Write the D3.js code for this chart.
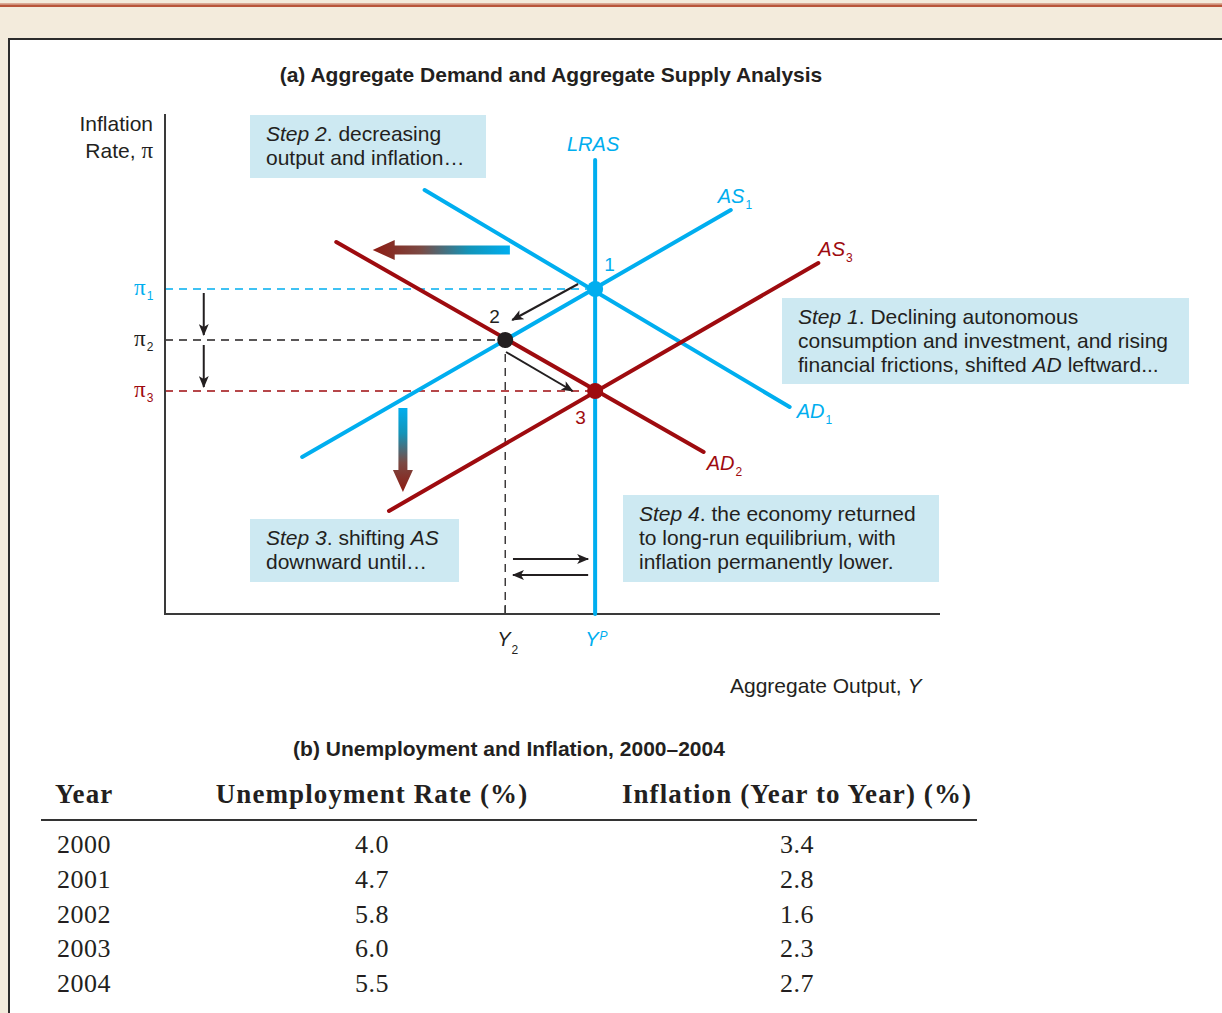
<!DOCTYPE html>
<html><head><meta charset="utf-8">
<script src="https://cdn.jsdelivr.net/npm/d3@7"></script>
<style>body{margin:0;background:#f3ebdc;overflow:hidden}</style>
</head><body><svg id="c" width="1222" height="1013"></svg>
<script>
// ---- data (schematic units: output 0-100, inflation 0-100) ----
const curveNames = ["LRAS", "AD1", "AS1", "AD2", "AS3"];
const curveColors = ["blue", "blue", "blue", "red", "red"];
const curveStart = [[55.5, 0], [33.5, 84.8], [17.7, 31.4], [22.1, 74.4], [28.9, 20.6]];
const curveEnd = [[55.5, 90.8], [80.6, 41.4], [73.0, 80.8], [69.5, 32.4], [84.3, 70.2]];
const eqLabels = ["1", "2", "3"];
const eqOutput = [55.5, 43.9, 55.5];
const eqInflation = [65, 54.8, 44.6];
const eqColors = ["blue", "black", "red"];
const piLabels = ["1", "2", "3"];
const years = ["2000", "2001", "2002", "2003", "2004"];
const unemployment = ["4.0", "4.7", "5.8", "6.0", "5.5"];
const inflationYoY = ["3.4", "2.8", "1.6", "2.3", "2.7"];
const tableHeaders = ["Year", "Unemployment Rate (%)", "Inflation (Year to Year) (%)"];

const COL = {blue: "#00aeef", red: "#9e0b0f", black: "#231f20"};
const SANS = "'Liberation Sans', Arial, Helvetica, sans-serif";
const SERIF = "'Liberation Serif', 'Times New Roman', serif";

const svg = d3.select("#c");
const x = d3.scaleLinear().domain([0, 100]).range([165, 940]);
const y = d3.scaleLinear().domain([0, 100]).range([614, 114]);

// page frame
svg.append("rect").attr("x", 0).attr("y", 0).attr("width", 1222).attr("height", 1013).attr("fill", "#f3ebdc");
svg.append("rect").attr("x", 0).attr("y", 3).attr("width", 1222).attr("height", 1.5).attr("fill", "#dba994");
svg.append("rect").attr("x", 0).attr("y", 4.5).attr("width", 1222).attr("height", 2.5).attr("fill", "#b8553a");
svg.append("rect").attr("x", 9).attr("y", 39).attr("width", 1240).attr("height", 1000)
  .attr("fill", "#fff").attr("stroke", "#2b2b2b").attr("stroke-width", 2);

const defs = svg.append("defs");
defs.append("marker").attr("id", "ah").attr("viewBox", "0 0 12 10").attr("refX", 11).attr("refY", 5)
  .attr("markerWidth", 12).attr("markerHeight", 10).attr("markerUnits", "userSpaceOnUse").attr("orient", "auto")
  .append("path").attr("d", "M0,0 L12,5 L0,10 L3,5 Z").attr("fill", COL.black);
const gH = defs.append("linearGradient").attr("id", "gh").attr("x1", "0").attr("x2", "1").attr("y1", "0").attr("y2", "0");
gH.append("stop").attr("offset", "0").attr("stop-color", "#8e1b12");
gH.append("stop").attr("offset", "0.35").attr("stop-color", "#7a4a44");
gH.append("stop").attr("offset", "0.7").attr("stop-color", "#1394b8");
gH.append("stop").attr("offset", "1").attr("stop-color", "#00aeef");
const gV = defs.append("linearGradient").attr("id", "gv").attr("x1", "0").attr("x2", "0").attr("y1", "0").attr("y2", "1");
gV.append("stop").attr("offset", "0").attr("stop-color", "#00aeef");
gV.append("stop").attr("offset", "0.3").attr("stop-color", "#1394b8");
gV.append("stop").attr("offset", "0.65").attr("stop-color", "#7a4a44");
gV.append("stop").attr("offset", "1").attr("stop-color", "#8e1b12");

// title
svg.append("text").attr("x", 551).attr("y", 82).attr("text-anchor", "middle")
  .attr("font-family", SANS).attr("font-weight", "bold").attr("font-size", 21).attr("fill", COL.black)
  .text("(a) Aggregate Demand and Aggregate Supply Analysis");

// text boxes
function box(x0, y0, w, h, lines) {
  svg.append("rect").attr("x", x0).attr("y", y0).attr("width", w).attr("height", h).attr("fill", "#cde9f2");
  lines.forEach((ln, i) => {
    const t = svg.append("text").attr("x", x0 + 16).attr("y", y0 + 26 + i * 24)
      .attr("font-family", SANS).attr("font-size", 21).attr("fill", COL.black);
    ln.forEach(([it, s]) => t.append("tspan").attr("font-style", it ? "italic" : "normal").text(s));
  });
}
box(250, 115, 236, 63, [[[1, "Step 2"], [0, ". decreasing"]], [[0, "output and inflation…"]]]);
box(782, 298, 407, 86, [[[1, "Step 1"], [0, ". Declining autonomous"]], [[0, "consumption and investment, and rising"]],
  [[0, "financial frictions, shifted "], [1, "AD"], [0, " leftward..."]]]);
box(250, 519, 209, 63, [[[1, "Step 3"], [0, ". shifting "], [1, "AS"]], [[0, "downward until…"]]]);
box(623, 495, 316, 87, [[[1, "Step 4"], [0, ". the economy returned"]], [[0, "to long-run equilibrium, with"]],
  [[0, "inflation permanently lower."]]]);

// dashed guides
eqInflation.forEach((v, i) => {
  svg.append("line").attr("x1", x(0)).attr("x2", x(eqOutput[i])).attr("y1", y(v)).attr("y2", y(v))
    .attr("stroke", COL[eqColors[i]]).attr("stroke-width", 1.3).attr("stroke-dasharray", "8,6");
});
svg.append("line").attr("x1", x(eqOutput[1])).attr("x2", x(eqOutput[1])).attr("y1", y(eqInflation[1])).attr("y2", y(0))
  .attr("stroke", COL.black).attr("stroke-width", 1.3).attr("stroke-dasharray", "8,6");

// axes
svg.append("line").attr("x1", x(0)).attr("x2", x(0)).attr("y1", y(100)).attr("y2", y(0))
  .attr("stroke", "#3a3a3a").attr("stroke-width", 2);
svg.append("line").attr("x1", x(0) - 1).attr("x2", x(100)).attr("y1", y(0)).attr("y2", y(0))
  .attr("stroke", "#3a3a3a").attr("stroke-width", 2);
svg.append("line").attr("x1", x(eqOutput[1])).attr("x2", x(eqOutput[1])).attr("y1", y(0)).attr("y2", y(0) - 9)
  .attr("stroke", "#3a3a3a").attr("stroke-width", 1.5);

// curves
curveNames.forEach((n, i) => {
  svg.append("line").attr("x1", x(curveStart[i][0])).attr("y1", y(curveStart[i][1]))
    .attr("x2", x(curveEnd[i][0])).attr("y2", y(curveEnd[i][1]))
    .attr("stroke", COL[curveColors[i]]).attr("stroke-width", 4).attr("stroke-linecap", "round");
});

// curve labels (relative to curve ends)
const labelOff = {LRAS: [-2, -9], AD1: [7, 11], AS1: [-13, -7], AD2: [3, 18], AS3: [0, -7]};
curveNames.forEach((n, i) => {
  const [ox, oy] = labelOff[n];
  const t = svg.append("text").attr("x", x(curveEnd[i][0]) + ox).attr("y", y(curveEnd[i][1]) + oy)
    .attr("font-family", SANS).attr("font-size", 20).attr("fill", COL[curveColors[i]])
    .attr("text-anchor", n === "LRAS" ? "middle" : "start");
  if (n === "LRAS") t.attr("font-style", "italic").text("LRAS");
  else {
    t.append("tspan").attr("font-style", "italic").text(n.slice(0, 2));
    t.append("tspan").attr("font-size", 12).attr("dy", 6).attr("dx", 1).text(n.slice(2));
  }
});

// shift arrows (gradient)
function hArrow(x0, x1, yy) {
  const X0 = x(x0), X1 = x(x1), Y = y(yy);
  const hl = 22;
  svg.append("path").attr("d", `M${X0},${Y - 4.5} L${X1 + hl},${Y - 4.5} L${X1 + hl},${Y - 10} L${X1},${Y} L${X1 + hl},${Y + 10} L${X1 + hl},${Y + 4.5} L${X0},${Y + 4.5} Z`)
    .attr("fill", "url(#gh)");
}
function vArrow(xx, y0, y1) {
  const X = x(xx), Y0 = y(y0), Y1 = y(y1);
  const hl = 22;
  svg.append("path").attr("d", `M${X - 4.5},${Y0} L${X - 4.5},${Y1 - hl} L${X - 10},${Y1 - hl} L${X},${Y1} L${X + 10},${Y1 - hl} L${X + 4.5},${Y1 - hl} L${X + 4.5},${Y0} Z`)
    .attr("fill", "url(#gv)");
}
hArrow(44.5, 26.8, 72.8);
vArrow(30.7, 41.2, 24.4);

// small black arrows
const smallArrows = [
  [[5.0, 64.2], [5.0, 55.8]], [[5.0, 53.8], [5.0, 45.4]],
  [[53.3, 66.0], [44.8, 58.8]], [[44.0, 52.4], [52.6, 44.6]],
  [[44.9, 11.0], [54.6, 11.0]], [[54.6, 7.8], [44.9, 7.8]]
];
smallArrows.forEach(([a, b]) => {
  svg.append("line").attr("x1", x(a[0])).attr("y1", y(a[1])).attr("x2", x(b[0])).attr("y2", y(b[1]))
    .attr("stroke", COL.black).attr("stroke-width", 2).attr("marker-end", "url(#ah)");
});

// equilibrium points
const eqLabOff = [[9, -18], [-16, -17], [-20, 33]];
eqLabels.forEach((l, i) => {
  svg.append("circle").attr("cx", x(eqOutput[i])).attr("cy", y(eqInflation[i])).attr("r", 8).attr("fill", COL[eqColors[i]]);
  svg.append("text").attr("x", x(eqOutput[i]) + eqLabOff[i][0]).attr("y", y(eqInflation[i]) + eqLabOff[i][1])
    .attr("font-family", SANS).attr("font-size", 19).attr("fill", COL[eqColors[i]]).text(l);
});

// pi labels
piLabels.forEach((l, i) => {
  const t = svg.append("text").attr("x", 134).attr("y", y(eqInflation[i]) + 6)
    .attr("font-family", SERIF).attr("font-size", 23).attr("fill", COL[eqColors[i]]);
  t.append("tspan").text("π");
  t.append("tspan").attr("font-family", SANS).attr("font-size", 12).attr("dy", 5).attr("dx", 1).text(l);
});

// axis titles
const yt = svg.append("g").attr("font-family", SANS).attr("font-size", 21).attr("fill", COL.black).attr("text-anchor", "end");
yt.append("text").attr("x", 153).attr("y", 131).text("Inflation");
const yt2 = yt.append("text").attr("x", 153).attr("y", 158);
yt2.append("tspan").text("Rate, ");
yt2.append("tspan").attr("font-family", SERIF).attr("font-size", 23).text("π");
const xt = svg.append("text").attr("x", 730).attr("y", 693).attr("font-family", SANS).attr("font-size", 21).attr("fill", COL.black);
xt.append("tspan").text("Aggregate Output, ");
xt.append("tspan").attr("font-style", "italic").text("Y");

// Y tick labels
const y2t = svg.append("text").attr("x", x(eqOutput[1]) - 8).attr("y", 646).attr("font-family", SANS).attr("font-size", 20).attr("fill", COL.black);
y2t.append("tspan").attr("font-style", "italic").text("Y");
y2t.append("tspan").attr("font-size", 12).attr("dy", 8).attr("dx", 1).text("2");
const ypt = svg.append("text").attr("x", x(eqOutput[0]) - 10).attr("y", 646).attr("font-family", SANS).attr("font-size", 20).attr("fill", COL.blue);
ypt.append("tspan").attr("font-style", "italic").text("Y");
ypt.append("tspan").attr("font-style", "italic").attr("font-size", 12).attr("dy", -6).attr("dx", 1).text("P");

// ---- table ----
svg.append("text").attr("x", 509).attr("y", 756).attr("text-anchor", "middle")
  .attr("font-family", SANS).attr("font-weight", "bold").attr("font-size", 21).attr("fill", COL.black)
  .text("(b) Unemployment and Inflation, 2000–2004");
const colX = [55, 372, 797];
const colAnchor = ["start", "middle", "middle"];
tableHeaders.forEach((h, i) => {
  svg.append("text").attr("x", colX[i]).attr("y", 803).attr("text-anchor", colAnchor[i])
    .attr("font-family", SERIF).attr("font-weight", "bold").attr("font-size", 27).attr("letter-spacing", 1.1)
    .attr("fill", COL.black).text(h);
});
svg.append("line").attr("x1", 41).attr("x2", 977).attr("y1", 820).attr("y2", 820).attr("stroke", "#333").attr("stroke-width", 2);
const rowY = d3.scaleLinear().domain([0, 4]).range([853, 992]);
years.forEach((yr, r) => {
  [yr, unemployment[r], inflationYoY[r]].forEach((v, c) => {
    svg.append("text").attr("x", c === 0 ? 57 : colX[c]).attr("y", rowY(r)).attr("text-anchor", colAnchor[c])
      .attr("font-family", SERIF).attr("font-size", 26).attr("letter-spacing", 0.5).attr("fill", COL.black).text(v);
  });
});
</script></body></html>
